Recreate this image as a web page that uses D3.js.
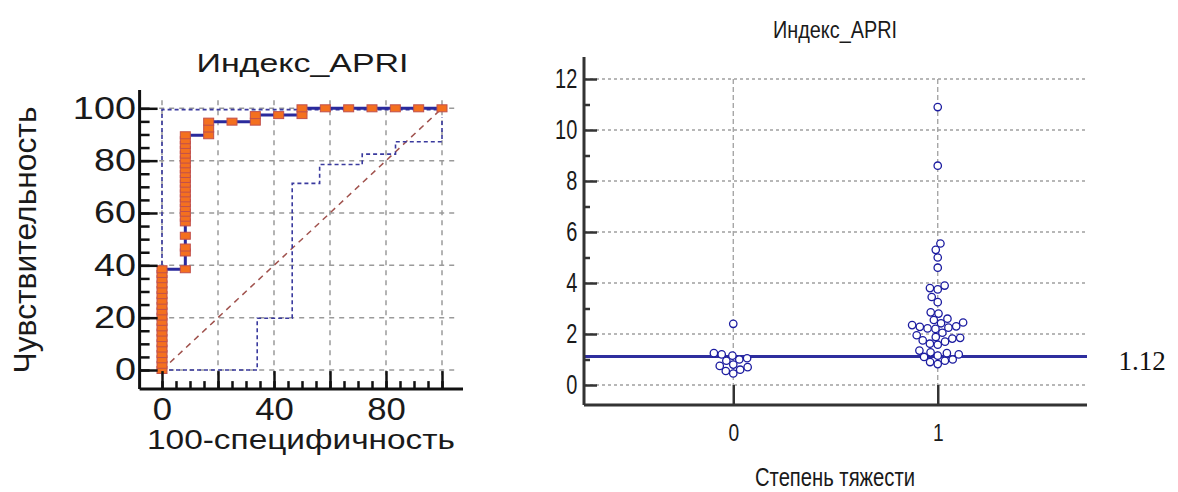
<!DOCTYPE html>
<html>
<head>
<meta charset="utf-8">
<script src="https://cdn.jsdelivr.net/npm/d3@7"></script>
<style>
  body { margin: 0; background: #fff; }
  svg { display: block; }
</style>
</head>
<body>
<div id="chart"></div>
<script>
// ROC curve points (100-specificity, sensitivity)
var rocFpr = [0, 0, 0, 0, 0, 0, 0, 0, 0, 0, 0, 0, 0, 0, 0, 0, 0, 0, 0, 0,
  8.33, 8.33, 8.33, 8.33, 8.33, 8.33, 8.33, 8.33, 8.33, 8.33, 8.33, 8.33,
  8.33, 8.33, 8.33, 8.33, 8.33, 8.33, 8.33, 8.33, 8.33, 8.33, 8.33,
  16.67, 16.67, 16.67, 25, 33.33, 33.33, 41.67, 50, 50,
  58.33, 66.67, 75, 83.33, 91.67, 100];
var rocSens = [0, 2, 4.1, 6.1, 8.2, 10.2, 12.2, 14.3, 16.3, 18.4, 20.4, 22.4,
  24.5, 26.5, 28.6, 30.6, 32.7, 34.7, 36.7, 38.5,
  38.5, 44.9, 46.8, 51.3, 56.4, 58.2, 60.1, 61.9, 63.8, 65.6, 67.5, 69.3,
  71.2, 73, 74.9, 76.7, 78.6, 80.4, 82.3, 84.1, 86, 87.8, 89.7,
  89.7, 92.3, 94.9, 94.9, 94.9, 97.4, 97.4, 97.4, 100,
  100, 100, 100, 100, 100, 100];
// confidence bounds
var upperFpr = [0, 0, 100];
var upperSens = [0, 99.5, 99.5];
var lowerFpr = [0, 34, 34, 46.5, 46.5, 56.3, 56.3, 71.5, 71.5, 83.4, 83.4, 100, 100];
var lowerSens = [0, 0, 19.8, 19.8, 71.3, 71.3, 78.5, 78.5, 82.5, 82.5, 87.2, 87.2, 96.5];
var rocTicks = [0, 20, 40, 60, 80, 100];
var rocTickLabels = [0, 40, 80];

// dot plot: APRI index by severity group
var groups = ["0", "1"];
var apri0 = [2.4, 1.25, 1.2, 1.15, 1.05, 1.0, 0.95, 0.8, 0.75, 0.7, 0.6, 0.55, 0.45];
var apri1 = [10.9, 8.6, 5.55, 5.3, 5.0, 4.6, 3.9, 3.8, 3.75, 3.45, 3.25, 2.85, 2.8,
  2.6, 2.55, 2.45, 2.42, 2.35, 2.3, 2.28, 2.25, 2.22, 2.2, 2.05, 1.95, 1.88, 1.85,
  1.82, 1.75, 1.7, 1.62, 1.58, 1.35, 1.28, 1.25, 1.2, 1.15, 1.1, 1.0, 0.95, 0.9, 0.82];
var apriTicks = [0, 2, 4, 6, 8, 10, 12];
var cutoff = 1.12;

var W = 1178, H = 492;
var sans = "Arial, 'Liberation Sans', sans-serif";

var svg = d3.select("#chart").append("svg")
  .attr("width", W).attr("height", H)
  .attr("font-family", sans);

// ---------- left: ROC curve ----------
var xL = d3.scaleLinear().domain([0, 100]).range([162, 442]);
var yL = d3.scaleLinear().domain([0, 100]).range([370, 108.3]);
var left = svg.append("g");

left.append("g").selectAll("line").data(rocTicks).join("line")
  .attr("x1", d => xL(d)).attr("x2", d => xL(d))
  .attr("y1", yL(-2)).attr("y2", yL(105))
  .attr("stroke", "#9a9a9a").attr("stroke-width", 1.5).attr("stroke-dasharray", "5,5");
left.append("g").selectAll("line").data(rocTicks).join("line")
  .attr("x1", xL(-1)).attr("x2", xL(105))
  .attr("y1", d => yL(d)).attr("y2", d => yL(d))
  .attr("stroke", "#9a9a9a").attr("stroke-width", 1.5).attr("stroke-dasharray", "5,5");

var line = d3.line().x(d => xL(d[0])).y(d => yL(d[1]));

left.append("path")
  .attr("d", line([[0, 0], [100, 100]]))
  .attr("fill", "none").attr("stroke", "#a0524d").attr("stroke-width", 1.5)
  .attr("stroke-dasharray", "6,5");

left.append("path")
  .attr("d", line(upperFpr.map((d, i) => [d, upperSens[i]])))
  .attr("fill", "none").attr("stroke", "#3a3a9e").attr("stroke-width", 1.6)
  .attr("stroke-dasharray", "4,3");
left.append("path")
  .attr("d", line(lowerFpr.map((d, i) => [d, lowerSens[i]])))
  .attr("fill", "none").attr("stroke", "#3a3a9e").attr("stroke-width", 1.6)
  .attr("stroke-dasharray", "4,3");

var rocPts = rocFpr.map((d, i) => [d, rocSens[i]]);
left.append("path")
  .attr("d", line(rocPts))
  .attr("fill", "none").attr("stroke", "#2a2a9c").attr("stroke-width", 3);

left.append("g").selectAll("rect").data(rocPts).join("rect")
  .attr("x", d => xL(d[0]) - 5).attr("y", d => yL(d[1]) - 3.5)
  .attr("width", 10).attr("height", 7)
  .attr("fill", "#f4701f").attr("stroke", "#c0504d").attr("stroke-width", 1);

// axes, offset from the plot like the original
var axL = xL(-8), axB = yL(-7.3);
function styleAxis(g, scaleX) {
  g.select(".domain").remove();
  g.selectAll(".tick line").attr("stroke", "#111").attr("stroke-width", 2.5);
  g.selectAll("text").attr("fill", "#1a1a1a").attr("font-size", 31)
    .attr("transform", "scale(" + scaleX + ",1)");
}
left.append("g").attr("transform", "translate(" + axL + ",0)")
  .call(d3.axisLeft(yL).tickValues(d3.range(0, 101, 5)).tickSize(-10).tickFormat(""))
  .call(g => styleAxis(g, 1));
left.append("g").attr("transform", "translate(" + axL + ",0)")
  .call(d3.axisLeft(yL).tickValues(rocTicks).tickSize(-18).tickPadding(3))
  .call(g => styleAxis(g, 1.22));
left.append("g").attr("transform", "translate(0," + axB + ")")
  .call(d3.axisBottom(xL).tickValues(d3.range(0, 101, 5)).tickSize(-8).tickFormat(""))
  .call(g => styleAxis(g, 1));
left.append("g").attr("transform", "translate(0," + axB + ")")
  .call(d3.axisBottom(xL).tickValues(rocTicks).tickSize(-18).tickPadding(9)
    .tickFormat(d => rocTickLabels.includes(d) ? d : ""))
  .call(g => styleAxis(g, 1.12));
left.append("line")
  .attr("x1", axL).attr("x2", axL).attr("y1", yL(107)).attr("y2", axB)
  .attr("stroke", "#111").attr("stroke-width", 3);
left.append("line")
  .attr("x1", axL).attr("x2", xL(107.5)).attr("y1", axB).attr("y2", axB)
  .attr("stroke", "#111").attr("stroke-width", 3);

left.append("text").text("Индекс_APRI")
  .attr("x", 302.5).attr("y", 71.5).attr("text-anchor", "middle")
  .attr("font-size", 26).attr("fill", "#1a1a1a")
  .attr("textLength", 212).attr("lengthAdjust", "spacingAndGlyphs");
left.append("text").text("100-специфичность")
  .attr("x", 301).attr("y", 449).attr("text-anchor", "middle")
  .attr("font-size", 28).attr("fill", "#1a1a1a")
  .attr("textLength", 308).attr("lengthAdjust", "spacingAndGlyphs");
left.append("text").text("Чувствительность")
  .attr("transform", "translate(36,240) rotate(-90)").attr("text-anchor", "middle")
  .attr("font-size", 31).attr("fill", "#1a1a1a")
  .attr("textLength", 267).attr("lengthAdjust", "spacingAndGlyphs");

// ---------- right: dot plot ----------
var xR = d3.scalePoint().domain(groups).range([584, 1087]).padding(0.73);
var yR = d3.scaleLinear().domain([0, 12]).range([385, 79]);
var right = svg.append("g");

right.append("g").selectAll("line").data(apriTicks).join("line")
  .attr("x1", 584).attr("x2", 1085)
  .attr("y1", d => yR(d)).attr("y2", d => yR(d))
  .attr("stroke", "#a0a0a0").attr("stroke-width", 1.3).attr("stroke-dasharray", "3,3");
right.append("g").selectAll("line").data(groups).join("line")
  .attr("x1", d => xR(d)).attr("x2", d => xR(d))
  .attr("y1", yR(12)).attr("y2", yR(0))
  .attr("stroke", "#a0a0a0").attr("stroke-width", 1.3).attr("stroke-dasharray", "5,3");

right.append("line")
  .attr("x1", 584).attr("x2", 1087).attr("y1", yR(cutoff)).attr("y2", yR(cutoff))
  .attr("stroke", "#2e2e9e").attr("stroke-width", 3);

// simple beeswarm: each point takes the free spot closest to the group centre
function swarm(values, cx, r) {
  var D = 2 * r + 0.5, placed = [];
  values.slice().sort((a, b) => a - b).forEach(function (v) {
    var y = yR(v);
    var near = placed.filter(p => Math.abs(p.y - y) < D);
    var cands = [0];
    near.forEach(function (p) {
      var dx = Math.sqrt(D * D - (p.y - y) * (p.y - y));
      cands.push(p.dx - dx, p.dx + dx);
    });
    cands.sort((a, b) => Math.abs(a) - Math.abs(b));
    var best = cands.find(c => near.every(p => (p.dx - c) * (p.dx - c) + (p.y - y) * (p.y - y) >= D * D - 0.01));
    placed.push({ v: v, y: y, dx: best });
  });
  return placed.map(p => ({ x: cx + p.dx, y: p.y }));
}
var dots = swarm(apri0, xR("0"), 3.7).concat(swarm(apri1, xR("1"), 3.7));
right.append("g").selectAll("circle").data(dots).join("circle")
  .attr("cx", d => d.x).attr("cy", d => d.y).attr("r", 3.7)
  .attr("fill", "#fff").attr("stroke", "#1c1ca0").attr("stroke-width", 1.3);

function styleAxisR(g, scaleX, size) {
  g.select(".domain").remove();
  g.selectAll(".tick line").attr("stroke", "#333").attr("stroke-width", 2.5);
  g.selectAll("text").attr("fill", "#1a1a1a").attr("font-size", size)
    .attr("transform", "scale(" + scaleX + ",1)");
}
right.append("g").attr("transform", "translate(584,0)")
  .call(d3.axisLeft(yR).tickValues(d3.range(1, 12, 2)).tickSize(-6).tickFormat(""))
  .call(g => styleAxisR(g, 1, 27));
right.append("g").attr("transform", "translate(584,0)")
  .call(d3.axisLeft(yR).tickValues(apriTicks).tickSize(-13).tickPadding(9))
  .call(g => styleAxisR(g, 0.74, 27));
right.append("g").attr("transform", "translate(0,405)")
  .call(d3.axisBottom(xR).tickSize(-20).tickPadding(19))
  .call(g => styleAxisR(g, 0.8, 24));
right.append("line")
  .attr("x1", 584).attr("x2", 584).attr("y1", 57).attr("y2", 405)
  .attr("stroke", "#333").attr("stroke-width", 3);
right.append("line")
  .attr("x1", 584).attr("x2", 1087).attr("y1", 405).attr("y2", 405)
  .attr("stroke", "#333").attr("stroke-width", 3);

right.append("text").text("Индекс_APRI")
  .attr("x", 835).attr("y", 38).attr("text-anchor", "middle")
  .attr("font-size", 23).attr("fill", "#1a1a1a")
  .attr("textLength", 124).attr("lengthAdjust", "spacingAndGlyphs");
right.append("text").text("Степень тяжести")
  .attr("x", 835).attr("y", 486).attr("text-anchor", "middle")
  .attr("font-size", 26).attr("fill", "#1a1a1a")
  .attr("textLength", 160).attr("lengthAdjust", "spacingAndGlyphs");

svg.append("text").text("1.12")
  .attr("x", 1142).attr("y", 370).attr("text-anchor", "middle")
  .attr("font-family", "'Times New Roman', 'Liberation Serif', serif")
  .attr("font-size", 27).attr("fill", "#111");
</script>
</body>
</html>
